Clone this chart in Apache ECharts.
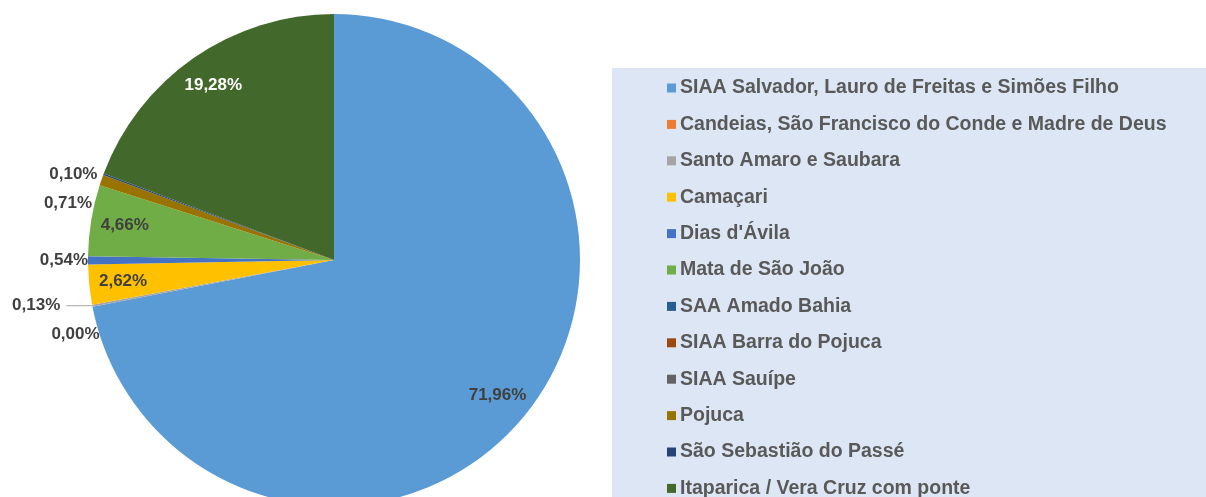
<!DOCTYPE html>
<html>
<head>
<meta charset="utf-8">
<script src="https://cdn.jsdelivr.net/npm/echarts@6/dist/echarts.min.js"></script>
<style>
  html, body { margin: 0; padding: 0; background: #fff; }
  #PieChart { width: 1206px; height: 497px; }
</style>
</head>
<body>
<div id="PieChart"></div>
<script>
  // prettier-ignore
  const names = ['SIAA Salvador, Lauro de Freitas e Simões Filho', 'Candeias, São Francisco do Conde e Madre de Deus', 'Santo Amaro e Saubara', 'Camaçari', "Dias d'Ávila", 'Mata de São João', 'SAA Amado Bahia', 'SIAA Barra do Pojuca', 'SIAA Sauípe', 'Pojuca', 'São Sebastião do Passé', 'Itaparica / Vera Cruz com ponte'];
  // prettier-ignore
  const values = [71.96, 0.00, 0.13, 2.62, 0.54, 4.66, null, null, null, 0.71, 0.10, 19.28];
  // prettier-ignore
  const colors = ['#5b9bd5', '#ed7d31', '#a5a5a5', '#ffc000', '#4472c4', '#70ad47', '#255e91', '#9e480e', '#636363', '#997300', '#264478', '#43682b'];

  const font = 'Arial, "Liberation Sans", sans-serif';
  const fmt = (v) => v.toFixed(2).replace('.', ',') + '%';

  let chart = echarts.init(document.getElementById('PieChart'));

  // main pie: small slices get their labels outside
  let mainData = names.map((n, i) => {
    let v = values[i];
    let item = { name: n, value: v };
    item.label = { show: v !== null && v < 2 };
    if (n === 'Santo Amaro e Saubara') {
      item.labelLine = { show: true, length: 0, length2: 32 };
    }
    return item;
  });

  // transparent ring, only used to place the big labels near the rim
  let ringData = names.map((n, i) => {
    let v = values[i];
    return {
      name: n,
      value: v,
      label: {
        show: v !== null && v >= 2,
        color: n.indexOf('Itaparica') === 0 ? '#ffffff' : '#404040',
      },
    };
  });

  let option = {
    animation: false,
    color: colors,
    legend: {
      orient: 'vertical',
      left: 612,
      top: 68,
      height: 600,
      padding: [10, 120, 60, 55],
      backgroundColor: '#dce6f4',
      icon: 'rect',
      itemWidth: 9,
      itemHeight: 9,
      itemGap: 16.4,
      selectedMode: false,
      data: names,
      textStyle: {
        fontFamily: font,
        fontWeight: 'bold',
        fontSize: 19.5,
        color: '#595959',
        padding: [0, 0, 0, -1],
      },
    },
    series: [
      {
        type: 'pie',
        center: [334, 260],
        radius: [0, 246],
        startAngle: 90,
        clockwise: true,
        silent: true,
        itemStyle: { borderWidth: 0 },
        label: {
          position: 'outside',
          formatter: (p) => fmt(p.value),
          fontFamily: font,
          fontWeight: 'bold',
          fontSize: 17,
          lineHeight: 27,
          color: '#404040',
          distanceToLabelLine: 6,
          overflow: 'none',
          edgeDistance: 0,
        },
        labelLine: {
          show: false,
          length: 0,
          length2: 0,
          lineStyle: { color: '#a6a6a6', width: 1 },
        },
        data: mainData,
      },
      {
        type: 'pie',
        center: [334, 260],
        radius: [202, 216],
        startAngle: 90,
        clockwise: true,
        silent: true,
        itemStyle: { color: 'rgba(0,0,0,0)', borderWidth: 0 },
        label: {
          position: 'inside',
          formatter: (p) => fmt(p.value),
          fontFamily: font,
          fontWeight: 'bold',
          fontSize: 17,
        },
        labelLine: { show: false },
        data: ringData,
      },
    ],
  };
  chart.setOption(option);
</script>
</body>
</html>
